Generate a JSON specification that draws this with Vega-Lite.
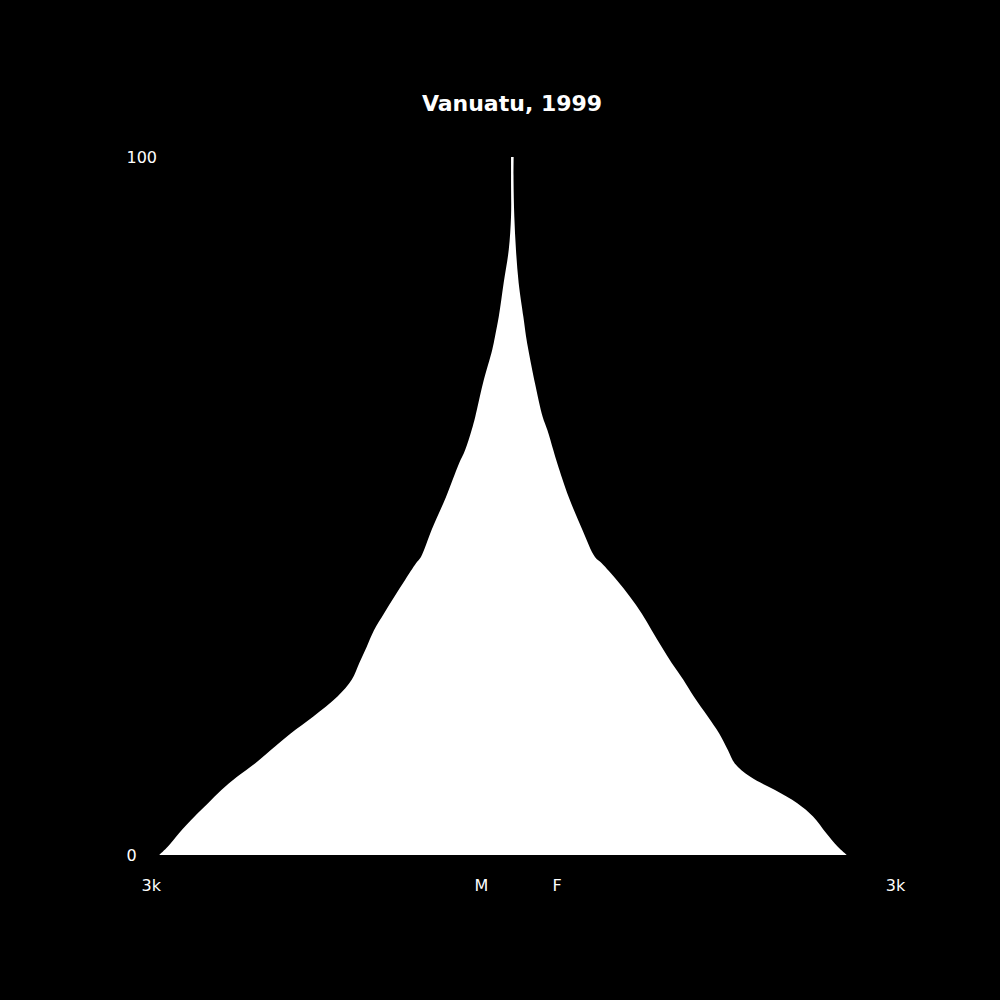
{
  "$schema": "https://vega.github.io/schema/vega-lite/v6.json",
  "background": "black",
  "autosize": {"type": "none"},
  "padding": {"top": 157, "left": 0, "right": 0, "bottom": 145},
  "width": 1000,
  "height": 698,
  "title": {
    "text": "Vanuatu, 1999",
    "color": "white",
    "font": "DejaVu Sans",
    "fontSize": 22,
    "fontWeight": "bold",
    "anchor": "middle",
    "dx": 12,
    "offset": 33
  },
  "config": {"view": {"stroke": null}},
  "data": {
    "values": [
      {"age": 0, "male": 2929, "female": 2622},
      {"age": 1.2, "male": 2857, "female": 2550},
      {"age": 3.1, "male": 2765, "female": 2462},
      {"age": 5.5, "male": 2636, "female": 2358},
      {"age": 7.4, "male": 2524, "female": 2235},
      {"age": 9.3, "male": 2413, "female": 2060},
      {"age": 11.2, "male": 2283, "female": 1867},
      {"age": 13.1, "male": 2134, "female": 1745},
      {"age": 15.0, "male": 2005, "female": 1692},
      {"age": 17.4, "male": 1838, "female": 1623},
      {"age": 19.8, "male": 1652, "female": 1535},
      {"age": 22.7, "male": 1449, "female": 1424},
      {"age": 25.1, "male": 1331, "female": 1342},
      {"age": 27.5, "male": 1268, "female": 1251},
      {"age": 29.8, "male": 1207, "female": 1173},
      {"age": 32.2, "male": 1146, "female": 1094},
      {"age": 34.6, "male": 1063, "female": 1016},
      {"age": 37.0, "male": 977, "female": 924},
      {"age": 39.4, "male": 888, "female": 820},
      {"age": 41.8, "male": 797, "female": 703},
      {"age": 42.7, "male": 756, "female": 650},
      {"age": 46.6, "male": 667, "female": 551},
      {"age": 51.3, "male": 548, "female": 444},
      {"age": 56.1, "male": 440, "female": 355},
      {"age": 58.0, "male": 390, "female": 324},
      {"age": 60.9, "male": 335, "female": 277},
      {"age": 62.8, "male": 305, "female": 240},
      {"age": 67.6, "male": 241, "female": 180},
      {"age": 72.4, "male": 164, "female": 128},
      {"age": 74.3, "male": 141, "female": 110},
      {"age": 77.1, "male": 110, "female": 89},
      {"age": 82.0, "male": 69, "female": 52},
      {"age": 86.7, "male": 27, "female": 31},
      {"age": 91.5, "male": 8, "female": 18},
      {"age": 96.7, "male": 8, "female": 12},
      {"age": 100, "male": 8, "female": 13}
    ]
  },
  "encoding": {
    "y": {
      "field": "age",
      "type": "quantitative",
      "scale": {"domain": [0, 100], "nice": false, "zero": false},
      "axis": {
        "orient": "left",
        "values": [0, 100],
        "offset": -126,
        "domain": false,
        "ticks": false,
        "grid": false,
        "labelAlign": "left",
        "labelPadding": 0,
        "labelColor": "white",
        "labelFont": "DejaVu Sans",
        "labelFontSize": 16,
        "title": null
      }
    }
  },
  "layer": [
    {
      "mark": {"type": "area", "orient": "horizontal", "interpolate": "catmull-rom", "color": "white"},
      "encoding": {
        "x": {
          "field": "male",
          "type": "quantitative",
          "scale": {"domain": [0, 4251.4], "range": [512, 0], "nice": false, "zero": false},
          "axis": {
            "orient": "bottom",
            "values": [3000],
            "labelExpr": "'3k'",
            "domain": false,
            "ticks": false,
            "grid": false,
            "labelPadding": 22,
            "labelColor": "white",
            "labelFont": "DejaVu Sans",
            "labelFontSize": 16,
            "title": "M",
            "titleX": 481,
            "titleY": 22,
            "titleAlign": "center",
            "titleBaseline": "top",
            "titleColor": "white",
            "titleFont": "DejaVu Sans",
            "titleFontSize": 16,
            "titleFontWeight": "normal"
          }
        },
        "x2": {"datum": 0}
      }
    },
    {
      "mark": {"type": "area", "orient": "horizontal", "interpolate": "catmull-rom", "color": "white"},
      "encoding": {
        "x": {
          "field": "female",
          "type": "quantitative",
          "scale": {"domain": [0, 3822.5], "range": [512, 1000], "nice": false, "zero": false},
          "axis": {
            "orient": "bottom",
            "values": [3000],
            "labelExpr": "'3k'",
            "domain": false,
            "ticks": false,
            "grid": false,
            "labelPadding": 22,
            "labelColor": "white",
            "labelFont": "DejaVu Sans",
            "labelFontSize": 16,
            "title": "F",
            "titleX": 556.7,
            "titleY": 22,
            "titleAlign": "center",
            "titleBaseline": "top",
            "titleColor": "white",
            "titleFont": "DejaVu Sans",
            "titleFontSize": 16,
            "titleFontWeight": "normal"
          }
        },
        "x2": {"datum": 0}
      }
    }
  ],
  "resolve": {"scale": {"x": "independent"}, "axis": {"x": "independent"}}
}
